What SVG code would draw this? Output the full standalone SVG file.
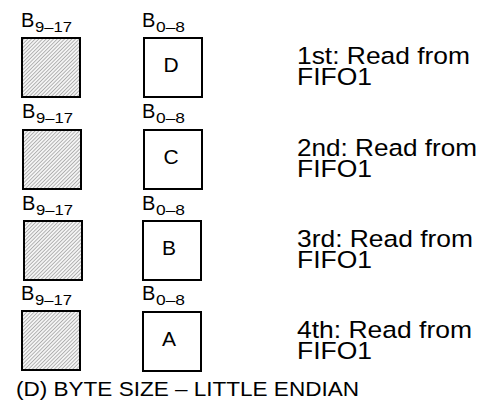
<svg xmlns="http://www.w3.org/2000/svg" width="481" height="402" viewBox="0 0 481 402">
<style>
text{font-family:"Liberation Sans",Arial,sans-serif;fill:#000}
.box{fill:#fff;stroke:#000;stroke-width:2}
.hatch{fill:url(#h);stroke:#000;stroke-width:2}
.b{font-size:20px}
.s{font-size:15px}
.c{font-size:21px;text-anchor:middle}
.t{font-size:24.5px}
.f{font-size:21px}
</style>
<defs>
<pattern id="h" patternUnits="userSpaceOnUse" width="2.6" height="2.6" patternTransform="rotate(45)">
<rect width="2.6" height="2.6" fill="#f4f4f4"/>
<line x1="0" y1="0" x2="0" y2="2.6" stroke="#8c8c8c" stroke-width="1.2"/>
</pattern>
</defs>
<g id="connectors"/>
<g id="row1">
<text class="b" x="21" y="27">B</text><text class="s" x="35" y="32" textLength="37" lengthAdjust="spacingAndGlyphs">9–17</text>
<text class="b" x="142" y="27">B</text><text class="s" x="156" y="32" textLength="29" lengthAdjust="spacingAndGlyphs">0–8</text>
<rect class="hatch" x="22" y="38" width="58" height="59"/>
<rect class="box" x="144" y="38" width="58" height="59"/>
<text class="c" x="171" y="72">D</text>
<text class="t" x="297" y="64" textLength="173" lengthAdjust="spacingAndGlyphs">1st: Read from</text>
<text class="t" x="297" y="85" textLength="75" lengthAdjust="spacingAndGlyphs">FIFO1</text>
</g>
<g id="row2">
<text class="b" x="22" y="118">B</text><text class="s" x="36" y="123" textLength="37" lengthAdjust="spacingAndGlyphs">9–17</text>
<text class="b" x="142" y="118">B</text><text class="s" x="156" y="123" textLength="29" lengthAdjust="spacingAndGlyphs">0–8</text>
<rect class="hatch" x="23" y="130" width="58" height="59"/>
<rect class="box" x="144" y="130" width="58" height="59"/>
<text class="c" x="171" y="164">C</text>
<text class="t" x="297" y="156" textLength="180" lengthAdjust="spacingAndGlyphs">2nd: Read from</text>
<text class="t" x="297" y="177" textLength="75" lengthAdjust="spacingAndGlyphs">FIFO1</text>
</g>
<g id="row3">
<text class="b" x="22" y="210">B</text><text class="s" x="36" y="215" textLength="37" lengthAdjust="spacingAndGlyphs">9–17</text>
<text class="b" x="142" y="210">B</text><text class="s" x="156" y="215" textLength="29" lengthAdjust="spacingAndGlyphs">0–8</text>
<rect class="hatch" x="24" y="221" width="58" height="59"/>
<rect class="box" x="143" y="221" width="58" height="59"/>
<text class="c" x="169" y="255">B</text>
<text class="t" x="297" y="247" textLength="176" lengthAdjust="spacingAndGlyphs">3rd: Read from</text>
<text class="t" x="297" y="268" textLength="75" lengthAdjust="spacingAndGlyphs">FIFO1</text>
</g>
<g id="row4">
<text class="b" x="21" y="300">B</text><text class="s" x="35" y="305" textLength="37" lengthAdjust="spacingAndGlyphs">9–17</text>
<text class="b" x="142" y="300">B</text><text class="s" x="156" y="305" textLength="29" lengthAdjust="spacingAndGlyphs">0–8</text>
<rect class="hatch" x="22" y="311" width="58" height="59"/>
<rect class="box" x="143" y="312" width="58" height="59"/>
<text class="c" x="169" y="346">A</text>
<text class="t" x="297" y="338" textLength="175" lengthAdjust="spacingAndGlyphs">4th: Read from</text>
<text class="t" x="297" y="359" textLength="75" lengthAdjust="spacingAndGlyphs">FIFO1</text>
</g>
<g id="caption">
<text class="f" x="16" y="396" textLength="343" lengthAdjust="spacingAndGlyphs">(D) BYTE SIZE – LITTLE ENDIAN</text>
</g>
</svg>
